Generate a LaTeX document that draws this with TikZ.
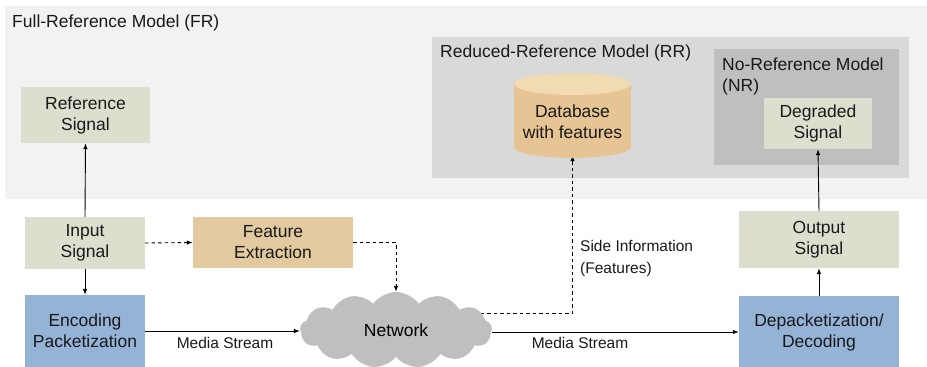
\documentclass[tikz,border=0pt]{standalone}
\usepackage{fontspec}
\setmainfont{Liberation Sans}
\usetikzlibrary{shapes.geometric,shapes.symbols,arrows.meta}
\pgfdeclarelayer{background}
\pgfdeclarelayer{back0}
\pgfsetlayers{back0,background,main}
\definecolor{outerbg}{HTML}{F2F2F2}
\definecolor{rrbg}{HTML}{D9D9D9}
\definecolor{nrbg}{HTML}{BFBFBF}
\definecolor{sigfill}{HTML}{DDDECE}
\definecolor{featfill}{HTML}{E2C99F}
\definecolor{dbbody}{HTML}{E6C493}
\definecolor{dbtop}{HTML}{F0DBB3}
\definecolor{bluefill}{HTML}{95B3D7}
\definecolor{cloudfill}{HTML}{BFBFBF}
\begin{document}
\begin{tikzpicture}[x=1pt,y=-1pt,
  mainfont/.style={font=\fontsize{17.5}{21}\selectfont},
  smallfont/.style={font=\fontsize{15.5}{22}\selectfont},
  boxnode/.style={mainfont,draw=none,align=center,inner sep=0pt,text=black!90},
  sigbox/.style={boxnode,fill=sigfill},
  featbox/.style={boxnode,fill=featfill},
  bluebox/.style={boxnode,fill=bluefill},
  conn/.style={line width=0.9pt,-{Latex[length=6pt,width=4.5pt]}},
  dconn/.style={conn,dash pattern=on 3.5pt off 3pt},
  title/.style={mainfont,anchor=west,inner sep=0pt,align=left,text=black!90},
  lbl/.style={smallfont,inner sep=0pt,align=left,text=black!90}
]
\useasboundingbox (0,0) rectangle (927,367);
% model regions
\begin{pgfonlayer}{back0}
\fill[outerbg] (5,6) rectangle (927,199);
\fill[rrbg] (432,37) rectangle (909,178);
\fill[nrbg] (714,49) rectangle (899,165);
\end{pgfonlayer}
\node[title] (frt) at (12,23) {Full-Reference Model (FR)};
\node[title] (rrt) at (440,53) {Reduced-Reference Model (RR)};
\node[title] (nrt) at (722,76) {No-Reference Model\\(NR)};

% nodes
\node[sigbox,minimum width=129pt,minimum height=56pt] (ref) at (85.5,115) {Reference\\Signal};
\node[sigbox,minimum width=120pt,minimum height=52pt] (inp) at (85,243) {Input\\Signal};
\node[featbox,minimum width=160pt,minimum height=51pt] (fe) at (273,242.5) {Feature\\Extraction};
\node[bluebox,minimum width=120pt,minimum height=72pt] (enc) at (85,331) {Encoding\\Packetization};
\node[cloud,cloud puffs=13,cloud puff arc=110,aspect=2.5,fill=cloudfill,draw=none,
      minimum width=192pt,minimum height=76pt,inner sep=0pt,mainfont] (net) at (396,330) {Network};
\node[bluebox,minimum width=160pt,minimum height=72pt] (dep) at (819,332) {Depacketization/\\Decoding};
\node[sigbox,minimum width=160pt,minimum height=57pt] (out) at (819,239.5) {Output\\Signal};
\node[sigbox,minimum width=108pt,minimum height=51pt] (deg) at (818,123.5) {Degraded\\Signal};
% database cylinder
\node[draw=none,minimum width=117pt,minimum height=85pt,inner sep=0pt] (db) at (572.5,115.5) {};
\fill[dbbody] (514,84) rectangle (631,147);
\fill[dbbody] (572.5,147) ellipse [x radius=58.5pt, y radius=11pt];
\fill[dbtop] (572.5,84) ellipse [x radius=58.5pt, y radius=11pt];
\node[boxnode] (dbt) at (572.5,122) {Database\\with features};

% connectors
\draw[conn] (inp.north) -- (ref.south);
\draw[conn] (inp.south) -- (enc.north);
\draw[dconn] (inp.east) -- (fe.west);
\draw[dconn] (fe.east) -| (net.north);
\draw[conn] (enc.east) -- (enc.east -| net.west);
\draw[conn] (net.east |- dep.west) -- (dep.west);
\begin{pgfonlayer}{background}
\coordinate (sidestart) at (net.center |- 0,313);
\draw[dconn] (sidestart) -| ([yshift=3pt]db.south);
\end{pgfonlayer}
\draw[conn] (dep.north) -- (out.south);
\draw[conn] (out.north) -- (deg.south);

% labels
\node[lbl] (ms1) at (225,343) {Media Stream};
\node[lbl] (ms2) at (580,343) {Media Stream};
\node[lbl,anchor=west] (side) at (580,258) {Side Information\\(Features)};
\end{tikzpicture}
\end{document}
